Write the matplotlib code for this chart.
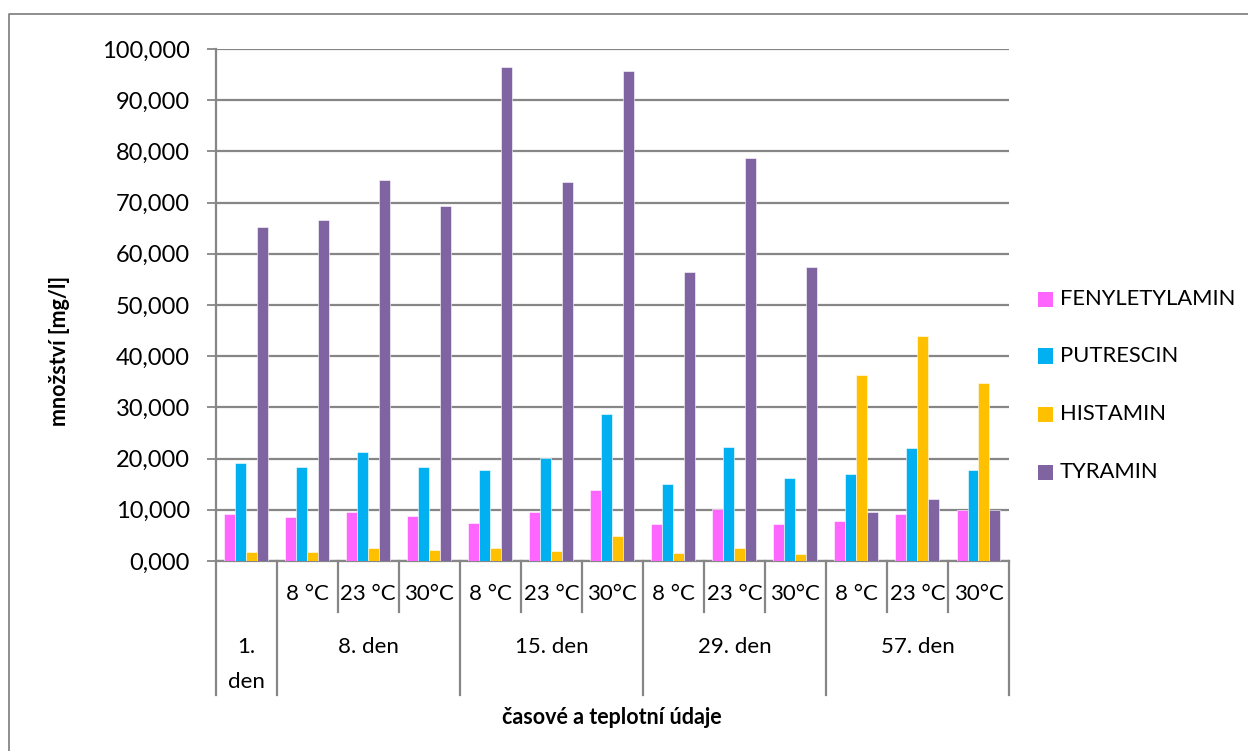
import matplotlib
matplotlib.use("Agg")
import matplotlib.pyplot as plt
from matplotlib.transforms import blended_transform_factory
from matplotlib.patches import Rectangle
from matplotlib.lines import Line2D

plt.rcParams['font.family'] = ['Lato', 'DejaVu Sans']

# Sampling points: day groups and storage temperatures
day_groups = ["1.\nden", "8. den", "15. den", "29. den", "57. den"]
group_sizes = [1, 3, 3, 3, 3]
temperatures = ["", "8 °C", "23 °C", "30°C",
                "8 °C", "23 °C", "30°C",
                "8 °C", "23 °C", "30°C",
                "8 °C", "23 °C", "30°C"]

# Biogenic amine content [mg/l]
fenyletylamin = [9.1, 8.5, 9.6, 8.75, 7.4, 9.5, 13.9, 7.2, 10.2, 7.2, 7.8, 9.2, 10.05]
putrescin = [19.2, 18.3, 21.3, 18.3, 17.7, 20.1, 28.8, 15.1, 22.2, 16.3, 16.9, 22.1, 17.7]
histamin = [1.7, 1.7, 2.6, 2.1, 2.6, 1.9, 4.8, 1.5, 2.5, 1.4, 36.4, 43.9, 34.7]
tyramin = [65.3, 66.6, 74.4, 69.4, 96.5, 74.1, 95.7, 56.4, 78.7, 57.4, 9.6, 12.2, 9.9]

series_names = ["FENYLETYLAMIN", "PUTRESCIN", "HISTAMIN", "TYRAMIN"]
series_values = [fenyletylamin, putrescin, histamin, tyramin]
colors = ["#FF66FF", "#00B0F0", "#FFC000", "#8064A2"]

W, H = 1248, 751
fig = plt.figure(figsize=(W / 100, H / 100), dpi=100)
fig.patch.set_facecolor("white")

def fy(py):
    return 1 - py / H

def fx(px):
    return px / W

x_left, x_right, y_top, y_bot = 215.7, 1009.0, 49.0, 561.0
ax = fig.add_axes([fx(x_left), fy(y_bot), fx(x_right) - fx(x_left), fy(y_top) - fy(y_bot)])

grid_col = "#868686"
n = len(temperatures)
bw = 0.18
for k, (vals, col) in enumerate(zip(series_values, colors)):
    xs = [i + (k - 1.5) * bw for i in range(n)]
    ax.bar(xs, vals, width=bw, color=col, edgecolor="white", linewidth=0.4, zorder=3)

ax.set_xlim(-0.5, n - 0.5)
ax.set_ylim(0, 100)
ax.set_yticks(range(0, 101, 10))
ax.set_yticklabels([f"{v},000" for v in range(0, 101, 10)], fontsize=17)
ax.yaxis.grid(True, color=grid_col, linewidth=1.6, zorder=0)
ax.set_axisbelow(True)
ax.tick_params(axis="y", length=6.5, width=1.3, color=grid_col, pad=12)
ax.set_xticks([])
for s in ["top", "right"]:
    ax.spines[s].set_visible(False)
ax.spines["left"].set_color(grid_col)
ax.spines["left"].set_linewidth(1.6)
ax.spines["bottom"].set_color(grid_col)
ax.spines["bottom"].set_linewidth(1.6)

# Two-level category axis below the plot
tr = blended_transform_factory(ax.transData, fig.transFigure)
edges = [0]
for g in group_sizes:
    edges.append(edges[-1] + g)
for i in range(n + 1):
    xe = i - 0.5
    bottom = 695 if i in edges else 612
    fig.add_artist(Line2D([xe, xe], [fy(561), fy(bottom)], transform=tr,
                          color=grid_col, linewidth=1.6))
for i, t in enumerate(temperatures):
    if t:
        fig.text(i, fy(594), t, transform=tr, ha="center", va="center", fontsize=16)
for g, (a, b) in enumerate(zip(edges[:-1], edges[1:])):
    xc = (a + b - 1) / 2
    label = day_groups[g]
    if "\n" in label:
        top, low = label.split("\n")
        fig.text(xc, fy(647), top, transform=tr, ha="center", va="center", fontsize=16)
        fig.text(xc, fy(682), low, transform=tr, ha="center", va="center", fontsize=16)
    else:
        fig.text(xc, fy(647), label, transform=tr, ha="center", va="center", fontsize=16)

fig.text(fx(612), fy(718), "časové a teplotní údaje", ha="center", va="center",
         fontsize=15.5, fontweight="bold")
fig.text(fx(60), fy(351), "množství [mg/l]", ha="center", va="center",
         rotation=90, fontsize=15.5, fontweight="bold")

# Legend
legend_y = [299, 356, 414, 472]
for name, col, py in zip(series_names, colors, legend_y):
    fig.add_artist(Rectangle((fx(1038), fy(py + 7.5)), fx(15), 15 / H,
                             transform=fig.transFigure, facecolor=col, edgecolor="none"))
    fig.text(fx(1060), fy(py), name, ha="left", va="center", fontsize=15.8)

# Chart frame
fig.add_artist(Line2D([fx(8.5), fx(8.5), fx(1260)], [fy(800), fy(13.5), fy(13.5)],
                      transform=fig.transFigure, color=grid_col, linewidth=1.3))

fig.savefig("out.png", dpi=100, facecolor="white")
